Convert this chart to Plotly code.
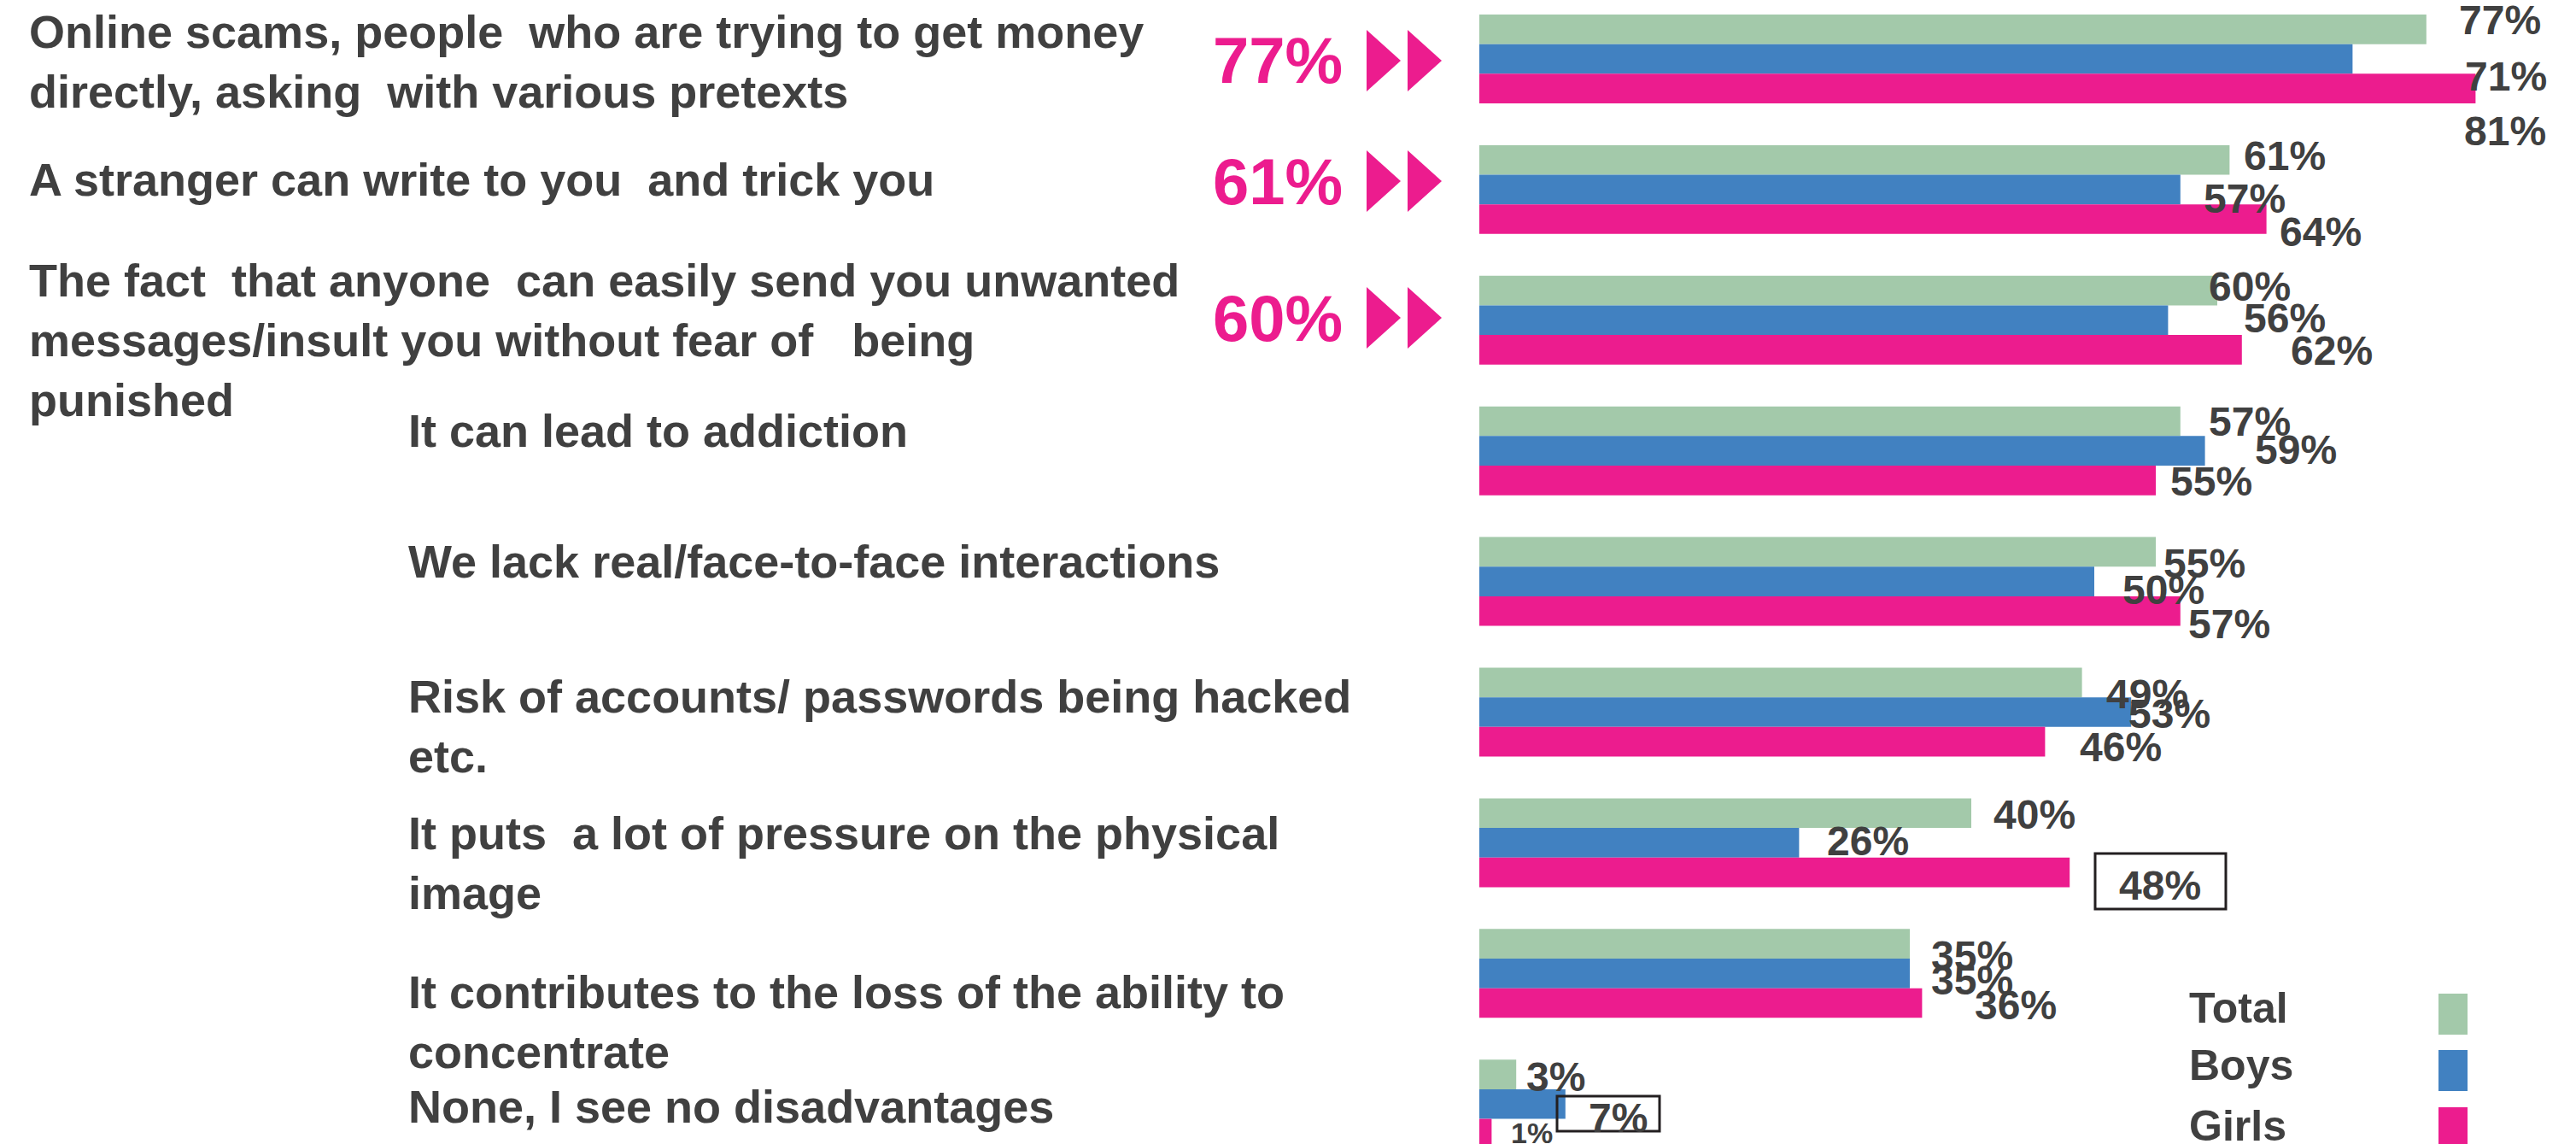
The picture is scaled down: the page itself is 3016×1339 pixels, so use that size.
import plotly.graph_objects as go

# ---- data -------------------------------------------------------------
categories = [
    "Online scams, people&nbsp; who are trying to get money<br>directly, asking&nbsp; with various pretexts",
    "A stranger can write to you&nbsp; and trick you",
    "The fact&nbsp; that anyone&nbsp; can easily send you unwanted<br>messages/insult you without fear of &nbsp; being<br>punished",
    "It can lead to addiction",
    "We lack real/face-to-face interactions",
    "Risk of accounts/ passwords being hacked<br>etc.",
    "It puts&nbsp; a lot of pressure on the physical<br>image",
    "It contributes to the loss of the ability to<br>concentrate",
    "None, I see no disadvantages",
]
series_names = ["Total", "Boys", "Girls"]
total = [77, 61, 60, 57, 55, 49, 40, 35, 3]
boys = [71, 57, 56, 59, 50, 53, 26, 35, 7]
girls = [81, 64, 62, 55, 57, 46, 48, 36, 1]
highlight_values = [77, 61, 60]          # pink call-outs for the top three (Total)

# ---- style / layout ---------------------------------------------------
W, H = 3016, 1339
FONT = "Liberation Sans, Arial, sans-serif"
GREY = "#404040"
colors = {"Total": "#A3C9AA", "Boys": "#4181C1", "Girls": "#EC1C8E"}

def px_x(px):
    return px / W

def px_y(py):
    return 1 - py / H

# category label placement (left edge, vertical centre in px)
cat_label_x = [32, 32, 32, 476, 476, 476, 476, 476, 476]
cat_label_y = [72, 210, 398, 504, 657, 850, 1010, 1196, 1295]

# value label placement per series (left edge, vertical centre in px)
val_label_x = {
    "Total": [2877, 2625, 2584, 2584, 2531, 2464, 2332, 2259, 1785],
    "Boys": [2884, 2578, 2625, 2638, 2483, 2490, 2137, 2259, 1858],
    "Girls": [2883, 2667, 2680, 2539, 2560, 2433, 2479, 2310, 1767],
}
val_label_y = {
    "Total": [23, 183, 335, 493, 660, 812, 953, 1118, 1260],
    "Boys": [89, 232, 372, 527, 690, 835, 984, 1147, 1308],
    "Girls": [153, 271, 410, 563, 730, 874, 1036, 1176, 1326],
}

fig = go.Figure()
for name, vals in zip(series_names, [total, boys, girls]):
    fig.add_trace(go.Bar(
        y=categories, x=vals, name=name, orientation="h",
        marker=dict(color=colors[name], line=dict(width=0)),
        showlegend=False, hoverinfo="x+name",
    ))

annotations = []

# category labels (bold, line by line)
for txt, lx, ly in zip(categories, cat_label_x, cat_label_y):
    bold = "<b>" + txt.replace("<br>", "</b><br><b>") + "</b>"
    annotations.append(dict(
        text=bold, x=px_x(lx), y=px_y(ly), xref="paper", yref="paper",
        xanchor="left", yanchor="middle", align="left", showarrow=False,
        font=dict(family=FONT, size=54, color=GREY),
    ))

# value labels
for name, vals in zip(series_names, [total, boys, girls]):
    for i, v in enumerate(vals):
        size = 34 if (name == "Girls" and i == 8) else 48
        annotations.append(dict(
            text=f"<b>{v}%</b>", x=px_x(val_label_x[name][i]), y=px_y(val_label_y[name][i]),
            xref="paper", yref="paper", xanchor="left", yanchor="middle",
            showarrow=False, font=dict(family=FONT, size=size, color=GREY),
        ))

# pink call-outs with double arrows
callout_y = [71, 212, 372]
shapes = []
for v, cy in zip(highlight_values, callout_y):
    annotations.append(dict(
        text=f"<b>{v}%</b>", x=px_x(1574), y=px_y(cy), xref="paper", yref="paper",
        xanchor="right", yanchor="middle", showarrow=False,
        font=dict(family=FONT, size=76, color="#EC1C8E"),
    ))
    for x0 in (1600, 1648):
        path = (f"M {px_x(x0)} {px_y(cy - 36)} L {px_x(x0 + 40)} {px_y(cy)} "
                f"L {px_x(x0)} {px_y(cy + 36)} Z")
        shapes.append(dict(type="path", path=path, xref="paper", yref="paper",
                           fillcolor="#EC1C8E", line=dict(width=0)))

# boxed values
for (x0, y0, x1, y1) in [(2453, 999, 2606, 1064), (1823, 1283, 1943, 1324)]:
    shapes.append(dict(type="rect", xref="paper", yref="paper",
                       x0=px_x(x0), x1=px_x(x1), y0=px_y(y1), y1=px_y(y0),
                       line=dict(color="#231F20", width=3), fillcolor="rgba(0,0,0,0)"))

# legend: text on the left, colour swatch on the right
legend_y = [1180, 1247, 1318]
swatch_top = [1163, 1229, 1296]
for name, ty, st in zip(series_names, legend_y, swatch_top):
    annotations.append(dict(
        text=f"<b>{name}</b>", x=px_x(2561), y=px_y(ty), xref="paper", yref="paper",
        xanchor="left", yanchor="middle", showarrow=False,
        font=dict(family=FONT, size=50, color=GREY),
    ))
    shapes.append(dict(type="rect", xref="paper", yref="paper",
                       x0=px_x(2855), x1=px_x(2889), y0=px_y(st + 48), y1=px_y(st),
                       fillcolor=colors[name], line=dict(width=0)))

px_per_pct = 14.4
zero_px = 1732

fig.update_layout(
    width=W, height=H,
    margin=dict(l=0, r=0, t=0, b=0),
    paper_bgcolor="white", plot_bgcolor="white",
    barmode="group", bargap=0.32, bargroupgap=0,
    xaxis=dict(domain=[zero_px / W, 1], range=[0, (W - zero_px) / px_per_pct],
               showgrid=False, zeroline=False, showticklabels=False,
               showline=False, ticks=""),
    yaxis=dict(categoryorder="array", categoryarray=categories,
               range=[8.306, -0.451], showgrid=False, zeroline=False,
               showticklabels=False, showline=False, ticks=""),
    annotations=annotations, shapes=shapes,
    font=dict(family=FONT),
)

fig.write_html("out.html", config={"displayModeBar": False})
